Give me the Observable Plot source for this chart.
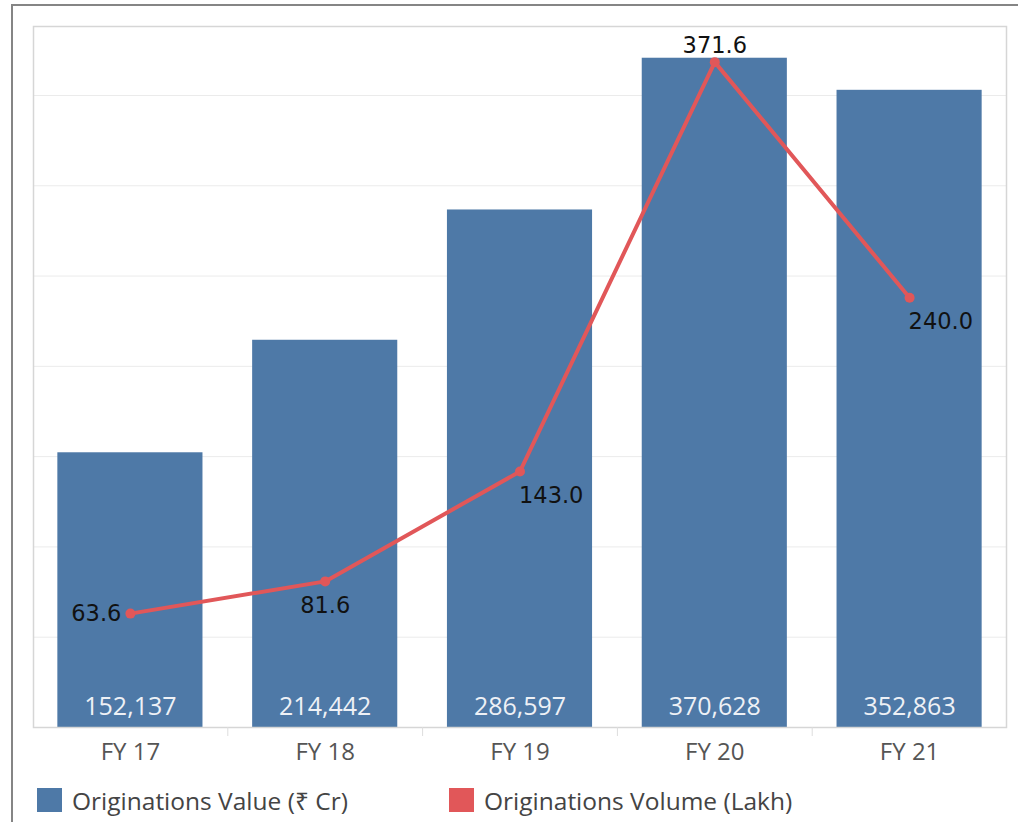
<!DOCTYPE html>
<html><head><meta charset="utf-8">
<script src="https://cdn.jsdelivr.net/npm/d3@7"></script>
<script src="https://cdn.jsdelivr.net/npm/@observablehq/plot@0.6"></script>
<style>
body{margin:0;background:#fff;overflow:hidden;width:1018px;height:822px;position:relative;font-family:"Open Sans","Noto Sans",sans-serif}
#chart{position:absolute;left:0;top:0}
#frame{position:absolute;left:11px;top:4px;width:1100px;height:900px;border-left:2px solid #858585;border-top:2px solid #858585;pointer-events:none}
#legend{position:absolute;left:37px;top:786px;height:28px;display:flex;align-items:center;font-size:24.5px;color:#444}
.item{display:flex;align-items:center}
.sw{width:25px;height:24px;margin-right:10px}
</style></head><body>
<div id="chart"></div><div id="legend"></div><div id="frame"></div>
<script>
const categories = ["FY 17","FY 18","FY 19","FY 20","FY 21"];
const originationsValue = [152137, 214442, 286597, 370628, 352863];   // ₹ Cr (bars)
const originationsVolume = [63.6, 81.6, 143.0, 371.6, 240.0];        // Lakh (line)
const volumeLabels = ["63.6", "81.6", "143.0", "371.6", "240.0"];
const gridTicks = [50000, 100000, 150000, 200000, 250000, 300000, 350000];
const legendLabels = ["Originations Value (₹ Cr)", "Originations Volume (Lakh)"];
const seriesColors = ["#4e79a7", "#e15759"];
const labelPlacement = ["left", "below", "below-right", "above", "below-right"];

const valueAxisMax = 388200;   // top of bar axis
const volumeAxisMax = 391.5;   // top of line axis (dual axis)

const W = 1018, H = 780, mL = 33, mR = 12, mT = 26, mB = 53;
const padIn = 0.255, padOut = 0.125;
const step = (W - mL - mR) / (categories.length - padIn + 2 * padOut);

const rows = categories.map((c, i) => ({
  cat: c,
  value: originationsValue[i],
  volume: originationsVolume[i],
  volY: originationsVolume[i] / volumeAxisMax * valueAxisMax,
  vlabel: volumeLabels[i],
  place: labelPlacement[i]
}));

const fmt = d3.format(",");
const lblStyle = {fontSize: 22.5, fontFamily: "DejaVu Sans", fill: "#111"};

const chart = Plot.plot({
  width: W, height: H,
  marginLeft: mL, marginRight: mR, marginTop: mT, marginBottom: mB,
  style: {fontFamily: "'Open Sans','Noto Sans',sans-serif", fontSize: "24px", color: "#555", background: "#fff"},
  x: {domain: categories, paddingInner: padIn, paddingOuter: padOut, round: false, tickSize: 0, tickPadding: 15, label: null},
  y: {domain: [0, valueAxisMax], axis: null},
  marks: [
    Plot.ruleY(gridTicks, {stroke: "#ebebeb", strokeWidth: 1}),
    Plot.barY(rows, {x: "cat", y: "value", fill: seriesColors[0]}),
    Plot.text(rows, {x: "cat", y: 0, text: d => fmt(d.value), dy: -21, fill: "#eef1f6", fontSize: 25}),
    Plot.line(rows, {x: "cat", y: "volY", stroke: seriesColors[1], strokeWidth: 4}),
    Plot.dot(rows, {x: "cat", y: "volY", r: 5, fill: seriesColors[1]}),
    Plot.text(rows.filter(d => d.place === "left"), {x: "cat", y: "volY", text: "vlabel", textAnchor: "end", dx: -9, ...lblStyle}),
    Plot.text(rows.filter(d => d.place === "below"), {x: "cat", y: "volY", text: "vlabel", dy: 24, ...lblStyle}),
    Plot.text(rows.filter(d => d.place === "below-right"), {x: "cat", y: "volY", text: "vlabel", textAnchor: "start", dx: -1, dy: 24, ...lblStyle}),
    Plot.text(rows.filter(d => d.place === "above"), {x: "cat", y: "volY", text: "vlabel", dy: -16, ...lblStyle}),
    Plot.frame({stroke: "#d6d6d6", strokeWidth: 1.5}),
    Plot.ruleX(categories.slice(1), {x: d => d, dx: -step / 2, y1: 0, y2: 0, insetBottom: -9, stroke: "#dddddd", strokeWidth: 1})
  ]
});
document.getElementById("chart").appendChild(chart);

const legend = document.getElementById("legend");
legendLabels.forEach((t, i) => {
  const it = document.createElement("div");
  it.className = "item";
  if (i === 0) it.style.width = "412px";
  const sw = document.createElement("div");
  sw.className = "sw";
  sw.style.background = seriesColors[i];
  const tx = document.createElement("span");
  tx.textContent = t;
  it.appendChild(sw); it.appendChild(tx);
  legend.appendChild(it);
});
</script>
</body></html>
